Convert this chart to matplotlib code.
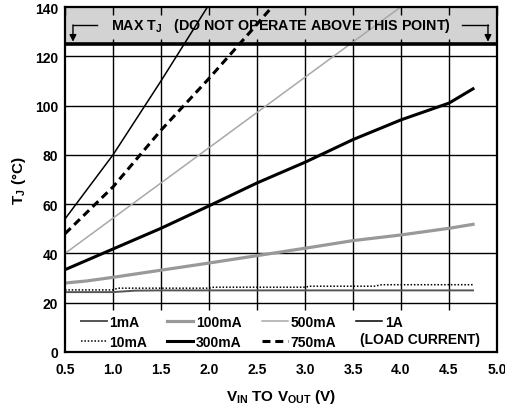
import matplotlib
matplotlib.use("Agg")
import matplotlib.pyplot as plt
from matplotlib.patches import Rectangle
from matplotlib.lines import Line2D

plt.rcParams['font.family'] = ['Liberation Sans', 'DejaVu Sans']
plt.rcParams['font.weight'] = 'bold'
plt.rcParams['mathtext.fontset'] = 'custom'
plt.rcParams['mathtext.bf'] = 'Liberation Sans:bold'
plt.rcParams['mathtext.rm'] = 'Liberation Sans:bold'
plt.rcParams['mathtext.it'] = 'Liberation Sans:bold'
plt.rcParams['mathtext.default'] = 'bf'

# ---------------- data ----------------
x_1mA = [0.5, 1.0, 1.23, 1.5, 2.0, 2.5, 3.0, 3.5, 4.0, 4.5, 4.75]
t_1mA = [24.3, 24.3, 24.9, 25.0, 25.0, 25.0, 25.0, 25.0, 25.0, 25.0, 25.0]

x_10mA = [0.5, 1.0, 1.05, 2.0, 2.05, 3.0, 3.05, 3.72, 3.8, 4.75]
t_10mA = [25.2, 25.2, 25.9, 25.9, 26.3, 26.3, 26.7, 26.7, 27.3, 27.3]

x_100mA = [0.5, 0.72, 1.0, 1.5, 2.0, 2.5, 3.0, 3.5, 4.0, 4.5, 4.75]
t_100mA = [28.0, 28.8, 30.3, 33.2, 36.1, 39.1, 42.1, 45.2, 47.5, 50.2, 51.8]

x_300mA = [0.5, 1.0, 1.5, 2.0, 2.5, 3.0, 3.5, 4.0, 4.5, 4.75]
t_300mA = [33.4, 41.8, 50.2, 59.3, 68.6, 77, 86.2, 94.2, 101, 106.8]

x_500mA = [0.5, 1.0, 1.5, 2.0, 2.5, 3.0, 3.5, 4.0]
t_500mA = [40, 54.3, 68.6, 82.9, 97.2, 111.5, 125.8, 140.1]

x_750mA = [0.5, 1.0, 1.5, 2.0, 2.5, 2.7]
t_750mA = [48, 67, 90, 111, 133, 142]

x_1A = [0.5, 1.0, 1.5, 2.0]
t_1A = [54, 80, 110, 141]

xticks = [0.5, 1.0, 1.5, 2.0, 2.5, 3.0, 3.5, 4.0, 4.5, 5.0]
yticks = [0, 20, 40, 60, 80, 100, 120, 140]
xtick_labels = ['0.5', '1.0', '1.5', '2.0', '2.5', '3.0', '3.5', '4.0', '4.5', '5.0']
t_max = 125

# ---------------- figure ----------------
fig = plt.figure(figsize=(5.06, 4.10), dpi=100)
ax = fig.add_axes([65/506, 1-353/410, 432/506, 345/410])
ax.set_xlim(0.5, 5.0)
ax.set_ylim(0, 140)

# grid
ax.vlines(xticks[1:-1], 17, t_max, color='black', lw=1.0, zorder=1)
ax.hlines(yticks[1:-1], 0.5, 5.0, color='black', lw=1.0, zorder=1)

# gray band
ax.add_patch(Rectangle((0.5, t_max), 4.5, 140 - t_max, facecolor='#d3d3d3', edgecolor='none', zorder=1.2))
ax.vlines(xticks[1:-1], t_max, t_max + 2.2, color='black', lw=1.0, zorder=1.3)

# data lines
st_1mA = dict(color='#555555', lw=1.4)
st_10mA = dict(color='black', lw=1.1, ls=(0, (1, 1.2)))
st_100mA = dict(color='#999999', lw=2.3)
st_300mA = dict(color='black', lw=2.2)
st_500mA = dict(color='#a8a8a8', lw=1.1)
st_750mA = dict(color='black', lw=2.2, ls=(0, (2.6, 1.6)))
st_1A = dict(color='black', lw=1.1)

ax.plot(x_1mA, t_1mA, zorder=2, **st_1mA)
ax.plot(x_10mA, t_10mA, zorder=2, **st_10mA)
ax.plot(x_100mA, t_100mA, zorder=2, **st_100mA)
ax.plot(x_300mA, t_300mA, zorder=2, **st_300mA)
ax.plot(x_500mA, t_500mA, zorder=2, **st_500mA)
ax.plot(x_750mA, t_750mA, zorder=2, **st_750mA)
ax.plot(x_1A, t_1A, zorder=2, **st_1A)

# max Tj line
ax.axhline(t_max, color='black', lw=2.6, zorder=3)

# band annotation
ty = 132.7
ax.text(2.75, ty, r'MAX $T_J$   (DO NOT OPERATE ABOVE THIS POINT)', ha='center', va='center',
        fontsize=10.3, fontweight='bold', zorder=4)
ax.plot([0.583, 0.833], [ty, ty], color='black', lw=1.0, zorder=4)
ax.plot([4.635, 4.906], [ty, ty], color='black', lw=1.0, zorder=4)
for xa in (0.583, 4.906):
    ax.annotate('', xy=(xa, t_max + 0.9), xytext=(xa, ty),
                arrowprops=dict(arrowstyle='-|>', color='black', lw=1.0,
                                mutation_scale=10, shrinkA=0, shrinkB=0), zorder=4)

# legend area
ax.add_patch(Rectangle((0.5, 0), 4.5, 16.8, facecolor='white', edgecolor='none', zorder=2.5))
handles = [Line2D([], [], **s) for s in (st_1mA, st_10mA, st_100mA, st_300mA, st_500mA, st_750mA, st_1A)]
labels = ['1mA', '10mA', '100mA', '300mA', '500mA', '750mA', '1A']
leg = ax.legend(handles, labels, ncol=4, loc='lower left', bbox_to_anchor=(0.028, 0.0),
                frameon=False, handlelength=1.87, handletextpad=0.2,
                columnspacing=1.45, labelspacing=0.4, borderpad=0.25, borderaxespad=0,
                prop={'weight': 'bold', 'size': 10})
leg.set_zorder(5)
ax.text(3.57, 5.2, '(LOAD CURRENT)', fontsize=10, fontweight='bold', va='center', ha='left', zorder=5)

# ticks
ax.set_xticks(xticks)
ax.set_xticklabels(xtick_labels)
ax.set_yticks(yticks)
ax.tick_params(axis='x', which='both', bottom=False, top=True, direction='in', length=6, width=1.0,
               labelsize=10, pad=7)
ax.tick_params(axis='y', which='both', left=False, length=0, labelsize=10, pad=5)
for lab in ax.get_xticklabels() + ax.get_yticklabels():
    lab.set_fontweight('bold')
for s in ax.spines.values():
    s.set_linewidth(1.6)
    s.set_zorder(6)

ax.set_xlabel(r'$V_{IN}$ TO $V_{OUT}$ (V)', fontsize=11, fontweight='bold', labelpad=8)
ax.set_ylabel(r'$T_J$ (°C)', fontsize=11, fontweight='bold', labelpad=5)

fig.savefig('out.png', dpi=100)
